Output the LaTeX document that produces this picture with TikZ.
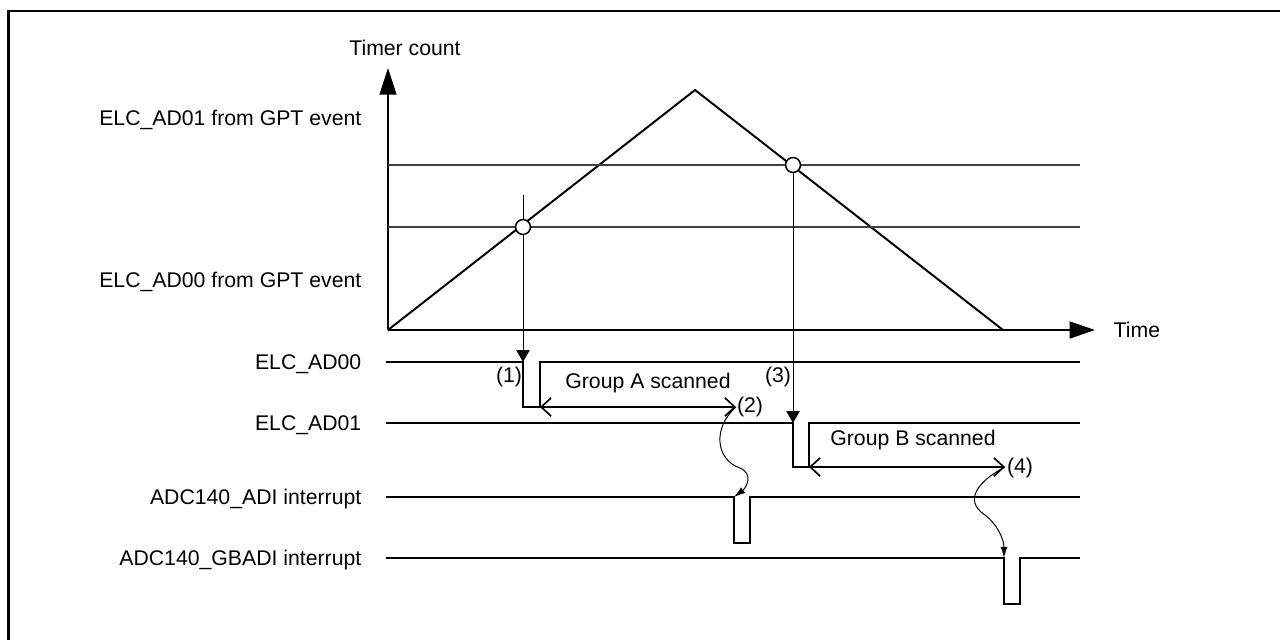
\documentclass[tikz,border=0pt]{standalone}
\usepackage{fontspec}
\setmainfont{Liberation Sans}
\usetikzlibrary{arrows.meta,positioning}

\begin{document}
\begin{tikzpicture}[x=0.025cm,y=-0.025cm,
every node/.style={font=\fontsize{15.1}{17}\selectfont,inner sep=1pt},
sig/.style={line width=1.4pt},
thinline/.style={line width=0.7pt},
level/.style={line width=0.8pt,black!75},
scan/.style={line width=1.2pt,{Straight Barb[length=7pt,width=13pt]}-{Straight Barb[length=7pt,width=13pt]}},
hit/.style={thinline,-{Triangle[length=8.5pt,width=9.5pt]}},
wave/.style={thinline,-{Latex[length=8pt,width=5pt]}},
trig/.style={circle,draw,fill=white,line width=1.1pt,inner sep=0pt,minimum size=10.6pt}]
\useasboundingbox (0,0) rectangle (1280,639);
\draw[line width=1.8pt] (8.5,645) -- (8.5,11) -- (1290,11);
% axes and counter
\coordinate (O) at (388,330);
\coordinate (Ytop) at (388,68);
\coordinate (Xend) at (1095,330);
\coordinate (Peak) at (695,90);
\coordinate (Bot) at (1003,330);
\draw[line width=1.4pt,-{Triangle[length=19pt,width=12pt]}] (O) -- (Ytop);
\draw[line width=1.4pt,-{Triangle[length=18pt,width=12pt]}] (O) -- (Xend);
\draw[line width=1.4pt] (O) -- (Peak) -- (Bot);
\node (tc) at (405,48) {Timer count};
\node[anchor=west] (time) at (1112,330) {Time};
% compare levels
\coordinate (L1a) at (388,165);
\coordinate (L1b) at (1080,165);
\coordinate (L0a) at (388,227);
\coordinate (L0b) at (1080,227);
\draw[level] (L1a) -- (L1b);
\draw[level] (L0a) -- (L0b);
\node[anchor=east] (lab1) at (363,120) {ELC\_AD01 from GPT event};
\node[anchor=east] (lab0) at (363,282) {ELC\_AD00 from GPT event};
% signal names
\node[anchor=east] (nAD00) at (363,364) {ELC\_AD00};
\node[anchor=east] (nAD01) at (363,425) {ELC\_AD01};
\node[anchor=east] (nADI) at (363,499) {ADC140\_ADI interrupt};
\node[anchor=east] (nGB) at (363,560) {ADC140\_GBADI interrupt};
% waveforms
\draw[sig] (386,362) coordinate (s0) -- (523,362) coordinate (e0) -- (523,407) -- (540,407) coordinate (a0) -- (540,362) -- (1080,362);
\draw[sig] (386,423) -- (793,423) coordinate (e1) -- (793,467) -- (809,467) coordinate (a1) -- (809,423) -- (1080,423);
\draw[sig] (386,497) -- (734,497) coordinate (p0) -- (734,543) -- (750,543) -- (750,497) -- (1080,497);
\draw[sig] (386,558) -- (1004,558) coordinate (p1) -- (1004,604) -- (1020,604) -- (1020,558) -- (1080,558);
% trigger points
\node[trig] (c0) at (523,227) {};
\node[trig] (c1) at (793,165) {};
\coordinate (v0) at (523,195);
\draw[thinline] (v0) -- (c0.north);
\draw[hit] (c0.south) -- (e0);
\draw[hit] (c1.south) -- (e1);
% scan periods
\coordinate (b0) at (736,407);
\coordinate (b1) at (1005,467);
\draw[scan] (a0) -- (b0);
\draw[scan] (a1) -- (b1);
\node (gA) at (648,383) {Group A scanned};
\node (gB) at (913,440) {Group B scanned};
\node (n1) at (509,377) {(1)};
\node (n2) at (750,407) {(2)};
\node (n3) at (778,377) {(3)};
\node (n4) at (1020,468) {(4)};
% interrupts
\draw[wave] (b0) .. controls (712,428) and (716,460) .. (740,468) .. controls (754,474) and (746,488) .. (p0);
\draw[wave] (b1) .. controls (980,480) and (962,500) .. (985,515) .. controls (1000,527) and (1004,542) .. (p1);
\end{tikzpicture}
\end{document}
